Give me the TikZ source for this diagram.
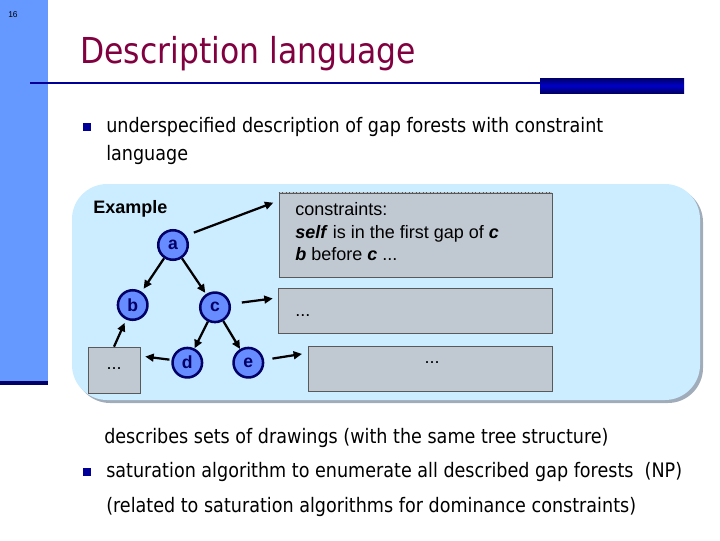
\documentclass[tikz,border=0pt]{standalone}
\usepackage{fontspec}
\setmainfont{Liberation Sans}
\newfontfamily\tahoma{DejaVu Sans}[FakeStretch=0.88]
\usetikzlibrary{arrows.meta}
\definecolor{barblue}{RGB}{102,153,255}
\definecolor{navy}{RGB}{0,0,153}
\definecolor{darknavy}{RGB}{0,0,102}
\definecolor{midnavy}{RGB}{0,0,200}
\definecolor{titlered}{RGB}{128,0,64}
\definecolor{regionblue}{RGB}{204,236,255}
\definecolor{regionshadow}{RGB}{160,172,186}
\definecolor{boxgray}{RGB}{192,201,210}
\definecolor{nodeblue}{RGB}{102,140,255}
\tikzset{
  vert/.style={circle, draw=darknavy, line width=1.8pt, fill=nodeblue, minimum size=21pt,
    inner sep=0pt, text=darknavy, font=\bfseries\fontsize{12.5}{14}\selectfont},
  gbox/.style={draw=black!65, line width=0.5pt, fill=boxgray},
  arr/.style={-{Triangle[length=6pt,width=5.5pt]}, line width=1.6pt},
  body/.style={anchor=base west, inner sep=0pt, font=\tahoma\fontsize{14.2}{17}\selectfont},
  boxtext/.style={anchor=base west, inner sep=0pt, font=\fontsize{12.8}{15}\selectfont},
  sqbullet/.style={fill=navy, minimum size=5.7pt, inner sep=0pt}
}
\newcommand{\bi}[1]{\textbf{\textit{#1}}}
\begin{document}
\begin{tikzpicture}[x=0.025cm, y=-0.025cm]
  \useasboundingbox (0,0) rectangle (720,540);
  \fill [barblue] (0,0) rectangle (48,381);
  \fill [darknavy] (0,381) rectangle (48,385);
  \node [anchor=base west, inner sep=0pt, font=\fontsize{6}{7}\selectfont] (pagenum) at (8,17) {16};
  \draw [navy, line width=1.8pt] (30,83) -- (540,83);
  \shade [top color=darknavy, bottom color=darknavy, middle color=midnavy] (540,78) rectangle (684,93);
  \node [anchor=base west, inner sep=0pt, text=titlered, font=\tahoma\fontsize{25.4}{30}\selectfont] (title) at (80,63) {Description language};

  \node [sqbullet] (bullet1) at (87,127) {};
  \node [body] (under) at (106,132.5) {underspecified description of gap forests with constraint};
  \node [body] (lang) at (106,160.5) {language};

  \fill [regionshadow, rounded corners=25pt] (75,187) rectangle (703,403);
  \fill [regionblue, rounded corners=25pt] (72,184) rectangle (700,400);
  \node [boxtext, font=\bfseries\fontsize{12.8}{15}\selectfont] (example) at (93,213) {Example};

  \node [gbox, minimum width=194.2pt, minimum height=59.7pt] (cbox) at (415.5,235) {};
  \draw [boxgray, line width=0.6pt] (cbox.north west) -- (cbox.north east);
  \draw [black!65, line width=0.5pt, dotted] (cbox.north west) -- (cbox.north east);
  \node [boxtext] (cline1) at (295,215) {constraints:};
  \node [boxtext] (cline2) at (295,238) {\bi{self} is in the first gap of \bi{c}};
  \node [boxtext] (cline3) at (295,260) {\bi{b} before \bi{c} ...};
  \node [gbox, minimum width=194.9pt, minimum height=32pt] (box2) at (415,310.5) {};
  \node [boxtext] (dots2) at (295,316) {...};
  \node [gbox, minimum width=173.6pt, minimum height=32pt] (box3) at (430,368.5) {};
  \node [boxtext, anchor=base] (dots3) at (432,363) {...};
  \node [gbox, minimum width=37pt, minimum height=32.7pt] (lbox) at (114,370) {};
  \node [boxtext, anchor=base] (dotsl) at (114,369) {...};

  \node [vert] (a) at (173,245) {a};
  \node [vert] (b) at (132.7,305) {b};
  \node [vert] (c) at (215,307.3) {c};
  \node [vert] (d) at (187.3,362.7) {d};
  \node [vert] (e) at (248.3,362.7) {e};

  \draw [arr, shorten <=6pt, shorten >=4pt] (a.36) -- ([yshift=-5.7pt]cbox.north west);
  \draw [arr, shorten >=2.5pt] (a) -- (b);
  \draw [arr, shorten >=1pt] (a) -- (c);
  \draw [arr] (c) -- (d);
  \draw [arr] (c) -- (e);
  \draw [arr, shorten <=8pt, shorten >=3.5pt] (c.12) -- ([yshift=9pt]box2.west);
  \draw [arr, shorten <=6pt, shorten >=4pt] (e.10) -- ([yshift=11pt]box3.west);
  \draw [arr, shorten <=1.5pt, shorten >=3.5pt] (d.170) -- ([yshift=10pt]lbox.east);
  \draw [arr, shorten >=2.5pt] (lbox.north) -- (b);

  \node [body] (desc) at (104,443.5) {describes sets of drawings (with the same tree structure)};
  \node [sqbullet] (bullet2) at (87,472) {};
  \node [body] (sat) at (106,477.5) {saturation algorithm to enumerate all described gap forests~ (NP)};
  \node [body] (rel) at (106,512.5) {(related to saturation algorithms for dominance constraints)};
\end{tikzpicture}
\end{document}
